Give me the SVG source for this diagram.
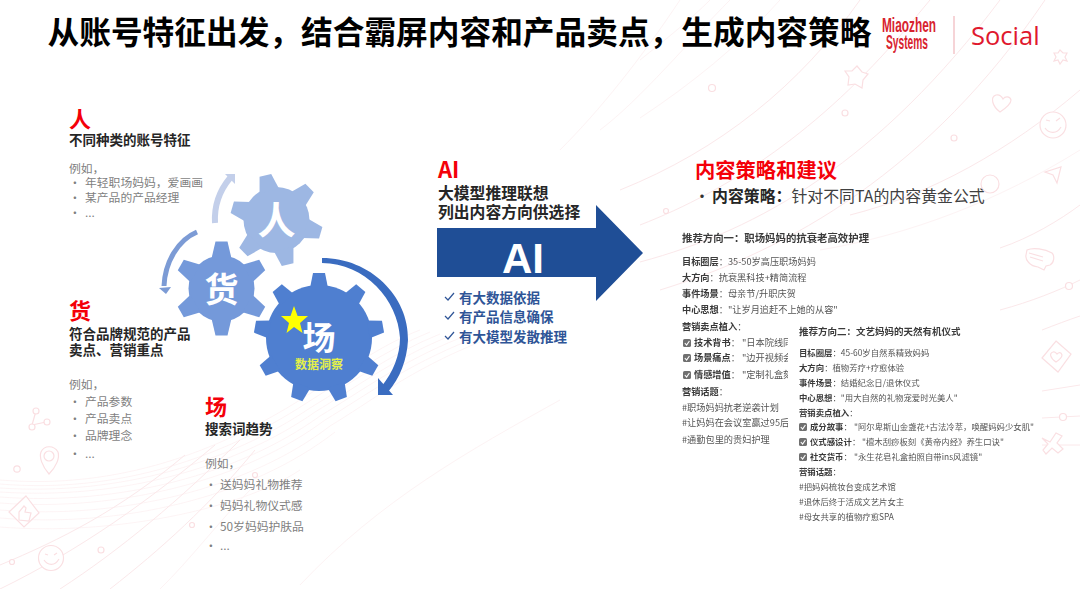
<svg xmlns="http://www.w3.org/2000/svg" width="1080" height="589" viewBox="0 0 1080 589">
<style>
text{font-family:"Noto Sans CJK SC","Noto Sans",sans-serif}
.bg{fill:none;stroke:#fbe8ea;stroke-width:1}
.bgf{fill:none;stroke:#fdf3f4;stroke-width:1}
.ic{fill:#fff;stroke:#fadfe2;stroke-width:1.2}
.mesh{fill:none;stroke:#fcecee;stroke-width:.6}
.red{fill:#f40009;font-weight:700}
.blk{fill:#262626;font-weight:700;font-size:13.5px}
.gr{fill:#7f7f7f;font-size:11.8px}
.chk{fill:#2f5597;font-weight:700;font-size:13.5px}
.p1{font-size:9.2px;fill:#555}
.p2{font-size:8.4px;fill:#555}
.b{font-weight:700;fill:#3a3a3a}
.gt{fill:#fff;font-weight:700;text-anchor:middle}
</style>
<defs>
<polygon id="t1" points="-6,-46 6,-46 10,-30 -10,-30"/>
<polygon id="t2" points="-6,-47 6,-47 10,-30 -10,-30"/>
<polygon id="t3" points="-6,-65 6,-65 9,-50 -9,-50"/>
<path id="tick" d="M0,4 L3,7 L9,0" fill="none" stroke="#2f5597" stroke-width="1.2"/>
<g id="box"><rect x="0" y="0" width="8" height="8" rx="1.6" fill="#6f6f6f"/><path d="M1.8,4 L3.6,6 L6.4,2" fill="none" stroke="#fff" stroke-width="1.1"/></g>
<filter id="soft" x="-5%" y="-5%" width="110%" height="110%"><feGaussianBlur stdDeviation="0.3"/></filter>
</defs>
<rect width="1080" height="589" fill="#fff"/>
<g id="background">
<path class="bgf" d="M560,150 C600,110 640,60 680,0"/>
<path class="bgf" d="M600,130 C640,100 690,40 730,0"/>
<path class="bgf" d="M640,60 C665,40 690,20 710,0"/>
<path class="bgf" d="M640,118 C690,85 740,45 780,0"/>
<path class="bg" d="M620,190 C720,150 800,85 860,0"/>
<path class="bg" d="M640,225 C730,190 820,130 905,30 L930,0"/>
<path class="bg" d="M640,262 C760,230 880,160 1000,0"/>
<path class="bg" d="M660,290 C790,250 930,170 1045,0"/>
<path class="bg" d="M850,215 C930,195 1010,150 1080,90"/>
<path class="bgf" d="M820,250 C910,235 1000,200 1080,150"/>
<path class="bg" d="M1000,248 C1030,238 1060,220 1080,205"/>
<path class="bg" d="M1000,310 C1030,302 1060,290 1080,280"/>
<path class="bg" d="M1042,330 C1055,325 1068,320 1080,316"/>
<path class="bg" d="M1042,391 L1080,385"/>
<path class="bg" d="M1042,418 L1080,416"/>
<path class="bg" d="M1042,445 L1080,445"/>
<path class="bgf" d="M300,585 C380,500 470,450 560,400"/>
<g id="mesh">
<path class="mesh" d="M0,480 C120,490 220,450 300,400 C340,375 380,345 420,330"/>
<path class="mesh" d="M0,484 C120,494 225,456 305,404 C345,379 385,350 430,332"/>
<path class="mesh" d="M0,488 C120,496 230,462 310,408 C350,384 390,354 440,334"/>
<path class="mesh" d="M0,492 C120,500 235,468 315,412 C355,388 395,358 450,336"/>
<path class="mesh" d="M0,497 C120,506 240,474 320,416 C360,392 400,362 460,338"/>
<path class="mesh" d="M0,503 C120,512 245,480 325,420 C365,396 405,366 470,340"/>
<path class="mesh" d="M0,510 C120,520 250,488 330,426 C370,402 410,370 480,342"/>
<path class="mesh" d="M0,518 C120,528 250,498 335,432"/>
<path class="mesh" d="M0,527 C110,536 240,510 300,470"/>
</g>
<path class="bg" d="M0,565 C60,540 120,510 185,455"/>
<path class="bg" d="M0,589 C80,550 150,500 215,445"/>
<path class="bg" d="M60,589 C120,550 180,500 240,440"/>
<path class="bg" d="M110,589 C160,550 210,505 255,450"/>
<path class="bgf" d="M160,589 C190,560 220,520 250,490"/>
<g id="icons">
<polygon class="ic" points="857,66 862,72 868,74 863,80 862,88 855,84 848,85 849,77 845,71 852,71"/>
<path class="ic" d="M1000,112 C992,106 990,97 996,95 C1000,94 1002,97 1003,99 C1005,96 1010,96 1011,100 C1011,104 1006,108 1000,112Z"/>
<circle class="ic" cx="1053" cy="125" r="13"/>
<path class="ic" d="M1045,128 C1049,134 1057,134 1061,127 M1046,120 L1050,121 M1056,121 L1060,118" />
<polygon class="ic" points="1060,50 1063,53 1067,53 1065,57 1067,61 1063,60 1060,64 1058,60 1054,61 1056,57 1054,53 1058,53"/>
<polygon class="ic" points="1045,172 1061,167 1057,183 1053,175"/>
<circle class="ic" cx="990" cy="184" r="9"/>
<path class="ic" d="M1027,250 C1033,247 1045,249 1052,253 C1055,256 1054,263 1050,265 L1046,266 L1044,270 L1038,267 C1030,266 1025,260 1026,255Z"/>
<path class="ic" d="M1029,253 L1043,257 M1030,257 L1043,261"/>
<polygon class="ic" points="1056,341 1071,354 1058,372 1042,358"/>
<path class="ic" d="M1056,362 C1050,358 1049,353 1053,352 C1055,351 1056,353 1057,354 C1059,352 1061,352 1062,355 C1062,358 1059,360 1056,362Z"/>
<path class="ic" d="M1042,438 L1050,442 L1056,433 L1062,436 L1057,443 L1063,449 L1058,453 L1052,448 L1046,454 L1043,450 L1048,444Z"/>
<circle class="ic" cx="1069" cy="286" r="3.5"/>
<circle class="ic" cx="1063" cy="417" r="3.5"/>
<circle class="ic" cx="712" cy="88" r="3.5"/>
<circle class="ic" cx="845" cy="113" r="3"/>
<circle class="ic" cx="954" cy="138" r="3"/>
<circle class="ic" cx="666" cy="211" r="2.5"/>
<path class="ic" d="M49,474 C42,466 39,457 41,452 C44,445 54,445 58,452 C60,458 56,467 49,474Z"/>
<circle class="ic" cx="49" cy="456" r="5"/>
<circle class="ic" cx="17" cy="469" r="3.2"/>
<path class="ic" d="M36,411 L32,425 M32,425 L46,422"/>
<circle class="ic" cx="36" cy="411" r="3"/><circle class="ic" cx="32" cy="427" r="3"/><circle class="ic" cx="47" cy="422" r="3"/>
<polygon class="ic" points="26,496 39,513 24,527 9,512"/>
<path class="ic" d="M19,520 L19,512 L24,506 L26,508 L25,512 L31,513 L29,521Z"/>
<circle class="ic" cx="51" cy="558" r="12.5"/>
<path class="ic" d="M44,560 C48,566 55,566 59,559 M45,554 L48,555 M54,555 L57,553"/>
<circle class="ic" cx="101" cy="550" r="3"/>
<circle class="ic" cx="12" cy="562" r="2.5"/>
<circle class="ic" cx="192" cy="525" r="2.5"/>
<circle class="ic" cx="255" cy="475" r="2.5"/>
</g>
</g>

<g id="header">
<text x="47.5" y="44" font-size="31.7" font-weight="700" fill="#000">从账号特征出发，结合霸屏内容和产品卖点，生成内容策略</text>
<text x="882" y="32" font-size="21" font-weight="700" fill="#d8232f" textLength="54" lengthAdjust="spacingAndGlyphs" style="font-family:'Liberation Sans',sans-serif">Miaozhen</text>
<text x="886" y="49" font-size="21" font-weight="700" fill="#d8232f" textLength="42" lengthAdjust="spacingAndGlyphs" style="font-family:'Liberation Sans',sans-serif">Systems</text>
<line x1="954" y1="16" x2="954" y2="54" stroke="#f0b8bd" stroke-width="1.2"/>
<text x="971" y="45" font-size="25.5" fill="#e0182d" style="font-family:'Open Sans',sans-serif">Social</text>
</g>

<g id="connectors">
<path d="M215,223 C214,205 220,190 230,178" fill="none" stroke="#c3cfea" stroke-width="6"/>
<polygon points="225,174 235,174 235,184" fill="#c3cfea"/>
<path d="M197,232 C178,240 165,262 164,286" fill="none" stroke="#7c9bd5" stroke-width="5"/>
<polygon points="159,288 171,287 166,294" fill="#7c9bd5"/>
<path d="M322,258 C370,258 409,296 408,340 C407,360 400,378 388,392 L382,386 C393,372 400,355 400,338 C398,300 365,263 322,263Z" fill="#3a6cc0"/>
<polygon points="378,378 393,395 378,395" fill="#3a6cc0"/>
</g>

<g id="gear-ren" transform="translate(276.5,220)" fill="#9db7e3">
<circle r="33"/>
<use href="#t1" transform="rotate(-14)"/><use href="#t1" transform="rotate(46)"/><use href="#t1" transform="rotate(106)"/><use href="#t1" transform="rotate(166)"/><use href="#t1" transform="rotate(226)"/><use href="#t1" transform="rotate(286)"/>
<text class="gt" x="0" y="14" font-size="38">人</text>
</g>
<g id="gear-huo" transform="translate(221.5,288.5)" fill="#7499da">
<circle r="33"/>
<use href="#t2"/><use href="#t2" transform="rotate(60)"/><use href="#t2" transform="rotate(120)"/><use href="#t2" transform="rotate(180)"/><use href="#t2" transform="rotate(240)"/><use href="#t2" transform="rotate(300)"/>
<text class="gt" x="0" y="13" font-size="34">货</text>
</g>
<g id="gear-chang" transform="translate(319,338)" fill="#4f7fd0">
<circle r="53"/>
<use href="#t3"/><use href="#t3" transform="rotate(40)"/><use href="#t3" transform="rotate(80)"/><use href="#t3" transform="rotate(120)"/><use href="#t3" transform="rotate(160)"/><use href="#t3" transform="rotate(200)"/><use href="#t3" transform="rotate(240)"/><use href="#t3" transform="rotate(280)"/><use href="#t3" transform="rotate(320)"/>
<text class="gt" x="0" y="12" font-size="33">场</text>
<text x="0" y="31" text-anchor="middle" font-size="12" font-weight="700" fill="#e4f04a">数据洞察</text>
<polygon transform="translate(-319,-338)" fill="#ffff00" points="294,306 297.6,316 308,316 300,323 302.5,333 294,327 286.5,333 289,323 281,316 290.5,316"/>
</g>

<g id="block-ren">
<text class="red" x="69" y="127" font-size="22">人</text>
<text class="blk" x="69" y="145">不同种类的账号特征</text>
<text class="gr" x="69" y="173">例如，</text>
<text class="gr" x="69" y="187">•</text><text class="gr" x="85" y="187">年轻职场妈妈，爱画画</text>
<text class="gr" x="69" y="202">•</text><text class="gr" x="85" y="202">某产品的产品经理</text>
<text class="gr" x="69" y="217">•</text><text class="gr" x="85" y="217">...</text>
</g>
<g id="block-huo">
<text class="red" x="69" y="319" font-size="22">货</text>
<text class="blk" x="69" y="339">符合品牌规范的产品</text>
<text class="blk" x="69" y="355">卖点、营销重点</text>
<text class="gr" x="69" y="389">例如，</text>
<text class="gr" x="69" y="406">•</text><text class="gr" x="85" y="406">产品参数</text>
<text class="gr" x="69" y="423">•</text><text class="gr" x="85" y="423">产品卖点</text>
<text class="gr" x="69" y="440">•</text><text class="gr" x="85" y="440">品牌理念</text>
<text class="gr" x="69" y="458">•</text><text class="gr" x="85" y="458">...</text>
</g>
<g id="block-chang">
<text class="red" x="205" y="415" font-size="22">场</text>
<text class="blk" x="205" y="434">搜索词趋势</text>
<text class="gr" x="205" y="468">例如，</text>
<text class="gr" x="205" y="489">•</text><text class="gr" x="220" y="489">送妈妈礼物推荐</text>
<text class="gr" x="205" y="510">•</text><text class="gr" x="220" y="510">妈妈礼物仪式感</text>
<text class="gr" x="205" y="531">•</text><text class="gr" x="220" y="531">50岁妈妈护肤品</text>
<text class="gr" x="205" y="550">•</text><text class="gr" x="220" y="550">...</text>
</g>

<g id="block-ai">
<text class="red" x="438" y="178" font-size="22">AI</text>
<text x="438" y="199" font-size="15.8" font-weight="700" fill="#262626">大模型推理联想</text>
<text x="438" y="218" font-size="15.8" font-weight="700" fill="#262626">列出内容方向供选择</text>
<polygon points="437,228 596,228 596,205 643,253 596,301 596,277 437,277" fill="#1f4e96"/>
<text x="523" y="273" text-anchor="middle" font-size="42" font-weight="700" fill="#fff" style="font-family:'Liberation Sans',sans-serif">AI</text>
<use href="#tick" transform="translate(445,293)"/><text class="chk" x="459" y="303">有大数据依据</text>
<use href="#tick" transform="translate(445,312)"/><text class="chk" x="459" y="322">有产品信息确保</text>
<use href="#tick" transform="translate(445,332)"/><text class="chk" x="459" y="342">有大模型发散推理</text>
</g>

<g id="block-strategy">
<text class="red" x="695" y="178" font-size="20.3">内容策略和建议</text>
<text x="694" y="202" font-size="16" fill="#333">•</text>
<text x="712" y="202" font-size="15.9" fill="#404040"><tspan font-weight="700" fill="#262626">内容策略：</tspan>针对不同TA的内容黄金公式</text>
</g>

<g id="panel-one" filter="url(#soft)">
<text x="682" y="242" font-size="10.4" font-weight="700" fill="#3a3a3a">推荐方向一：职场妈妈的抗衰老高效护理</text>
<text class="p1" x="682" y="265"><tspan class="b">目标圈层</tspan>：35-50岁高压职场妈妈</text>
<text class="p1" x="682" y="281"><tspan class="b">大方向</tspan>：抗衰黑科技+精简流程</text>
<text class="p1" x="682" y="297"><tspan class="b">事件场景</tspan>：母亲节/升职庆贺</text>
<text class="p1" x="682" y="313"><tspan class="b">中心思想</tspan>："让岁月追赶不上她的从容"</text>
<text class="p1" x="682" y="330"><tspan class="b">营销卖点植入</tspan>：</text>
<use href="#box" x="683" y="339"/><text class="p1" x="694" y="346"><tspan class="b">技术背书</tspan>：</text><text class="p1" x="742" y="346">"日本院线同</text>
<use href="#box" x="683" y="354"/><text class="p1" x="694" y="361"><tspan class="b">场景痛点</tspan>：</text><text class="p1" x="742" y="361">"边开视频会</text>
<use href="#box" x="683" y="371"/><text class="p1" x="694" y="378"><tspan class="b">情感增值</tspan>：</text><text class="p1" x="742" y="378">"定制礼盒刻</text>
<text class="p1" x="682" y="395"><tspan class="b">营销话题</tspan>：</text>
<text class="p1" x="682" y="411">#职场妈妈抗老逆袭计划</text>
<text class="p1" x="682" y="426">#让妈妈在会议室赢过95后</text>
<text class="p1" x="682" y="443">#通勤包里的贵妇护理</text>
</g>
<g id="panel-two">
<rect x="788" y="322" width="248" height="205" fill="#fff"/>
<g filter="url(#soft)">
<text x="799" y="335" font-size="9.5" font-weight="700" fill="#3a3a3a">推荐方向二：文艺妈妈的天然有机仪式</text>
<text class="p2" x="799" y="356"><tspan class="b">目标圈层</tspan>：45-60岁自然系精致妈妈</text>
<text class="p2" x="799" y="371"><tspan class="b">大方向</tspan>：植物芳疗+疗愈体验</text>
<text class="p2" x="799" y="386"><tspan class="b">事件场景</tspan>：结婚纪念日/退休仪式</text>
<text class="p2" x="799" y="401"><tspan class="b">中心思想</tspan>："用大自然的礼物宠爱时光美人"</text>
<text class="p2" x="799" y="416"><tspan class="b">营销卖点植入</tspan>：</text>
<use href="#box" x="799" y="423"/><text class="p2" x="810" y="430"><tspan class="b">成分故事</tspan>：</text><text class="p2" x="854" y="430">"阿尔卑斯山金盏花+古法冷萃，唤醒妈妈少女肌"</text>
<use href="#box" x="799" y="438"/><text class="p2" x="810" y="445"><tspan class="b">仪式感设计</tspan>：</text><text class="p2" x="862" y="445">"檀木刮痧板刻《黄帝内经》养生口诀"</text>
<use href="#box" x="799" y="453"/><text class="p2" x="810" y="460"><tspan class="b">社交货币</tspan>：</text><text class="p2" x="854" y="460">"永生花皂礼盒拍照自带ins风滤镜"</text>
<text class="p2" x="799" y="475"><tspan class="b">营销话题</tspan>：</text>
<text class="p2" x="799" y="490">#把妈妈梳妆台变成艺术馆</text>
<text class="p2" x="799" y="505">#退休后终于活成文艺片女主</text>
<text class="p2" x="799" y="520">#母女共享的植物疗愈SPA</text>
</g>
</g>
</svg>
